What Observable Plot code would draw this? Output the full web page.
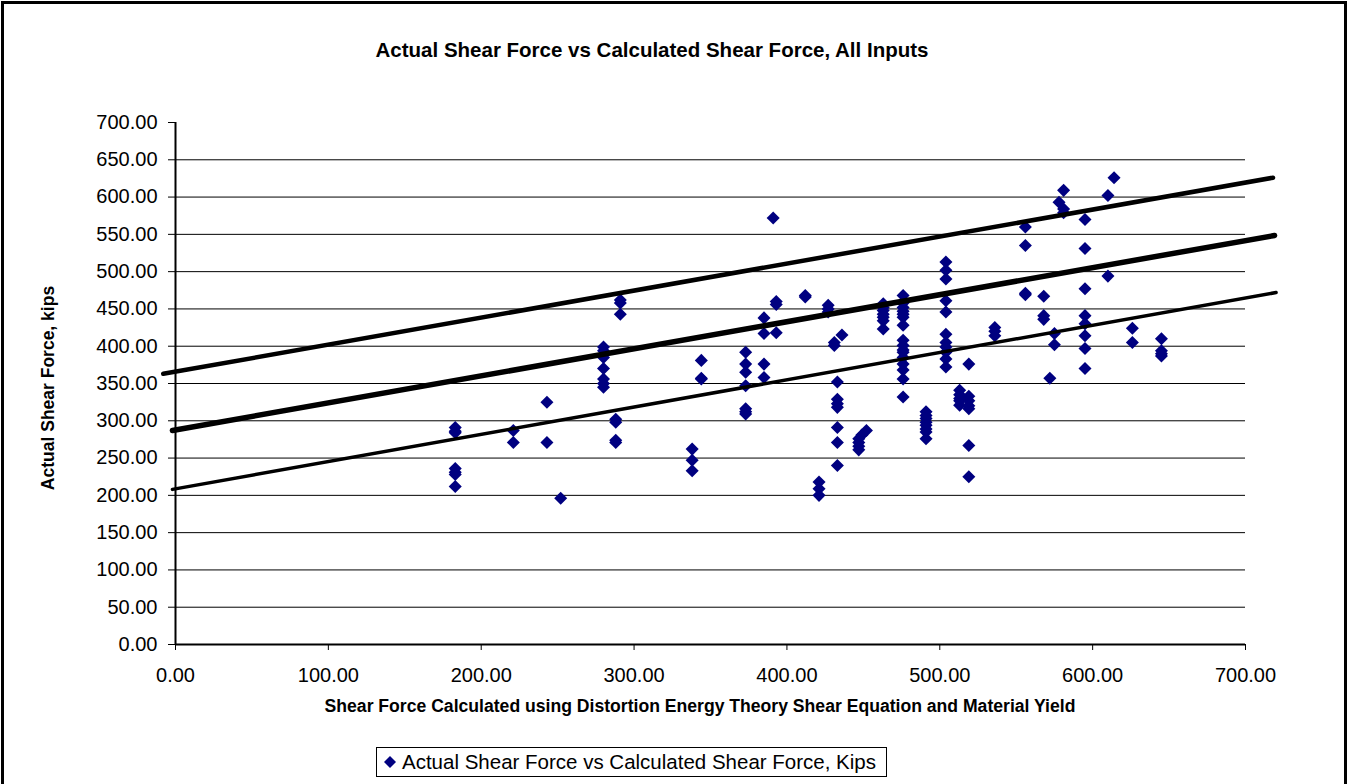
<!DOCTYPE html>
<html>
<head>
<meta charset="utf-8">
<script src="https://cdn.jsdelivr.net/npm/d3@7"></script>
<script src="https://cdn.jsdelivr.net/npm/@observablehq/plot@0.6"></script>
<style>
  body { margin: 0; background: #fff; font-family: "Liberation Sans", Arial, sans-serif; }
  #wrap { position: relative; width: 1347px; height: 784px; overflow: hidden; background: #fff; }
  #frame { position: absolute; left: 1px; top: 1px; width: 1346px; height: 830px; border: 3px solid #000; box-sizing: border-box; pointer-events: none; }
  #chart { position: absolute; left: 0; top: 0; }
  .title { position: absolute; left: 652px; top: 50px; transform: translate(-50%, -50%); font-weight: bold; font-size: 20.5px; white-space: nowrap; color: #000; }
  .xlabel { position: absolute; left: 700px; top: 706px; transform: translate(-50%, -50%); font-weight: bold; font-size: 17.6px; white-space: nowrap; color: #000; }
  .ylabel { position: absolute; left: 48px; top: 388px; transform: translate(-50%, -50%) rotate(-90deg); font-weight: bold; font-size: 17.5px; white-space: nowrap; color: #000; }
  .legend { position: absolute; left: 376px; top: 747px; width: 511px; height: 30px; border: 1.5px solid #000; box-sizing: border-box; display: flex; align-items: center; font-size: 20.5px; white-space: nowrap; color: #000; background: #fff; }
  .legend svg { margin-left: 6px; margin-right: 5px; }
</style>
</head>
<body>
<div id="wrap">
  <div id="chart"></div>
  <div class="title">Actual Shear Force vs Calculated Shear Force, All Inputs</div>
  <div class="xlabel">Shear Force Calculated using Distortion Energy Theory Shear Equation and Material Yield</div>
  <div class="ylabel">Actual Shear Force, kips</div>
  <div class="legend"><svg width="14" height="14" viewBox="-7 -7 14 14"><polygon points="0,-6 6,0 0,6 -6,0" fill="#000080"/></svg><span>Actual Shear Force vs Calculated Shear Force, Kips</span></div>
  <div id="frame"></div>
</div>
<script>
// Calculated shear force (x) columns and the actual shear force values (y) observed at each
const calcColumns = [183, 221, 243, 252, 280, 288, 291, 338, 344, 373, 385, 391, 393, 412, 427, 431, 436, 433, 421,
  447, 449, 452, 463, 476, 491, 504, 513, 519, 536, 556, 568, 572, 575, 578, 581, 595, 610, 614, 626, 645];
const actualByColumn = [
  [291, 286, 284, 236, 231, 228, 212],
  [287, 271],
  [325, 271],
  [196],
  [399, 394, 385, 370, 356, 350, 345],
  [302, 298, 274, 271],
  [462, 458, 443],
  [262, 247, 233],
  [381, 357, 356],
  [392, 376, 365, 347, 316, 312, 309],
  [438, 417, 376, 358],
  [572],
  [460, 456, 418],
  [468, 466],
  [455, 450, 446],
  [405, 401],
  [415],
  [352, 329, 323, 318, 291, 271, 240],
  [218, 209, 200],
  [276, 271, 266, 261],
  [281],
  [287],
  [457, 452, 448, 443, 439, 434, 423],
  [468, 458, 452, 447, 443, 439, 428, 408, 401, 395, 392, 385, 376, 368, 356, 332],
  [312, 307, 303, 298, 294, 289, 285, 276],
  [513, 502, 490, 461, 446, 416, 405, 399, 392, 383, 372],
  [341, 335, 330, 327, 321],
  [376, 333, 327, 320, 316, 267, 225],
  [425, 420, 414],
  [560, 535, 471, 469],
  [467, 441, 436],
  [357],
  [417, 402],
  [593],
  [609, 584, 579],
  [570, 531, 477, 441, 430, 414, 397, 370],
  [602, 494],
  [626],
  [424, 405],
  [410, 394, 390, 387]
];

// Fitted line and bands (end points)
const fitX = [-2, 719];
const fitY = [287, 548.5];
const upperX = [-8, 718];
const upperY = [363, 626];
const lowerX = [-2, 720];
const lowerY = [208, 472];

const xTicks = [0, 100, 200, 300, 400, 500, 600, 700];
const yTicks = [0, 50, 100, 150, 200, 250, 300, 350, 400, 450, 500, 550, 600, 650, 700];
const gridValues = [50, 100, 150, 200, 250, 300, 350, 400, 450, 500, 550, 600, 650];

const points = calcColumns.flatMap((cx, i) => actualByColumn[i].map(v => ({x: cx, y: v})));
const toLine = (xs, ys) => xs.map((v, i) => ({x: v, y: ys[i]}));

const fmt = d3.format(".2f");
const chart = Plot.plot({
  width: 1347,
  height: 784,
  marginLeft: 175,
  marginRight: 102,
  marginTop: 122,
  marginBottom: 140,
  style: { fontFamily: "'Liberation Sans', Arial, sans-serif", fontSize: "20px", color: "#000", background: "transparent" },
  x: { domain: [0, 700], ticks: xTicks },
  y: { domain: [0, 700], ticks: yTicks },
  marks: [
    Plot.ruleY(gridValues, { stroke: "#000", strokeWidth: 1 }),
    Plot.dot(points, { x: "x", y: "y", symbol: "square", rotate: 45, r: 5.2, fill: "#000080", stroke: "none" }),
    Plot.line(toLine(upperX, upperY), { x: "x", y: "y", stroke: "#000", strokeWidth: 4.5 }),
    Plot.line(toLine(fitX, fitY), { x: "x", y: "y", stroke: "#000", strokeWidth: 5.5 }),
    Plot.line(toLine(lowerX, lowerY), { x: "x", y: "y", stroke: "#000", strokeWidth: 3.5 }),
    Plot.axisY(yTicks, { tickFormat: fmt, tickSize: 7, tickPadding: 11, stroke: "#000", fill: "#000", fontSize: 20, label: null }),
    Plot.axisX(xTicks, { tickFormat: fmt, tickSize: 6, tickPadding: 17, stroke: "#000", fill: "#000", fontSize: 20, label: null }),
    Plot.ruleX([0], { stroke: "#000", strokeWidth: 2 }),
    Plot.ruleY([0], { stroke: "#000", strokeWidth: 2 })
  ]
});
document.getElementById("chart").appendChild(chart);
</script>
</body>
</html>
